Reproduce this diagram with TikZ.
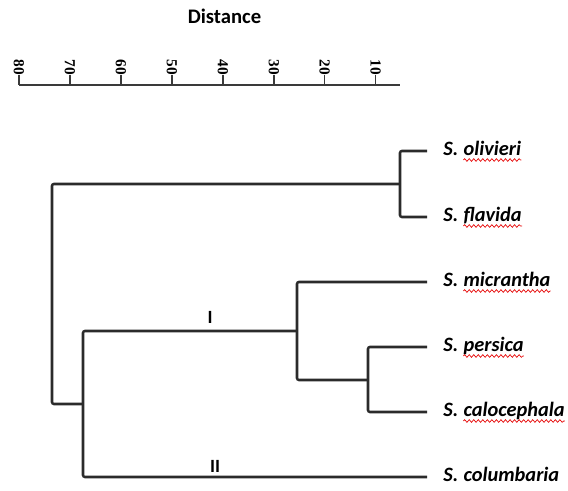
\documentclass[tikz,border=0pt]{standalone}
\usepackage{fontspec}
\setmainfont{Carlito}
\newfontfamily\tickfont{Liberation Serif}
\usetikzlibrary{decorations.pathmorphing}
\definecolor{ink}{HTML}{2B2B2B}
\definecolor{axisgray}{HTML}{3A3A3A}
\tikzset{
  tree/.style={draw=ink, line width=1.9pt, rounded corners=1.5pt},
  axisline/.style={draw=axisgray, line width=1.1pt},
  ticklab/.style={font=\tickfont\fontsize{11.5}{11.5}\selectfont\bfseries, rotate=-90, anchor=east, inner sep=0pt, text=black},
  genus/.style={font=\fontsize{15.3}{15.3}\selectfont\bfseries\itshape, anchor=base west, inner sep=0pt, text=black},
  epithet/.style={font=\fontsize{15.3}{15.3}\selectfont\bfseries\itshape, anchor=base west, inner sep=0pt, text=black},
  spell/.style={draw=red!90!black, line width=0.5pt, decorate, decoration={snake, amplitude=1pt, segment length=3.4pt}},
  clusterlab/.style={font=\fontsize{14}{14}\selectfont\bfseries, inner sep=0pt, text=black},
}
\begin{document}
\begin{tikzpicture}[x=0.75pt, y=-0.75pt]
\useasboundingbox (0,0) rectangle (568,491);

% title and distance scale
\node[font=\fontsize{15.5}{15.5}\selectfont\bfseries, text=black] (title) at (224.5,16) {Distance};
\coordinate (axL) at (19,85);
\coordinate (axR) at (400,85);
\draw[axisline] (axL) -- (axR);
\foreach \v [count=\i from 0] in {80,70,60,50,40,30,20,10} {
  \coordinate (tk\v) at ({19+50.96*\i},85);
  \node[ticklab] (tl\v) at ({19+50.96*\i},75) {\v};
  \draw[axisline] (tl\v.east) -- (tk\v);
}

% leaf ends
\coordinate (lo)   at (427,151);
\coordinate (lf)   at (427,217);
\coordinate (lm)   at (427,282);
\coordinate (lp)   at (427,347);
\coordinate (lc)   at (427,412);
\coordinate (lcol) at (427,477);

% internal nodes
\coordinate (nof)  at (400,184);
\coordinate (npc)  at (368,380);
\coordinate (nI)   at (297,331);
\coordinate (nII)  at (83,404);
\coordinate (root) at (52,404);

% branches
\draw[tree] (lo) -| (nof) |- (lf);
\draw[tree] (lp) -| (npc) |- (lc);
\draw[tree] (lm) -| (nI) |- (npc);
\draw[tree] (nI) -| (nII) |- (lcol);
\draw[tree] (nof) -| (root) -- (nII);

% cluster labels
\node[clusterlab] (cI)  at (210,317) {I};
\node[clusterlab] (cII) at (215,466) {II};

% species names
\foreach \tag/\yy/\ep/\wav in {o/156/olivieri/1, f/222/flavida/1, m/287/micrantha/1, p/352/persica/1, c/417/calocephala/1, col/482/columbaria/0} {
  \node[genus] (g\tag) at (443,\yy) {S.};
  \node[epithet] (e\tag) at ([xshift=3.6pt]g\tag.base east) {\ep};
  \ifnum\wav=1
    \draw[spell] ([yshift=-3pt]e\tag.base west) -- ([yshift=-3pt]e\tag.base east);
  \fi
}
\end{tikzpicture}
\end{document}
